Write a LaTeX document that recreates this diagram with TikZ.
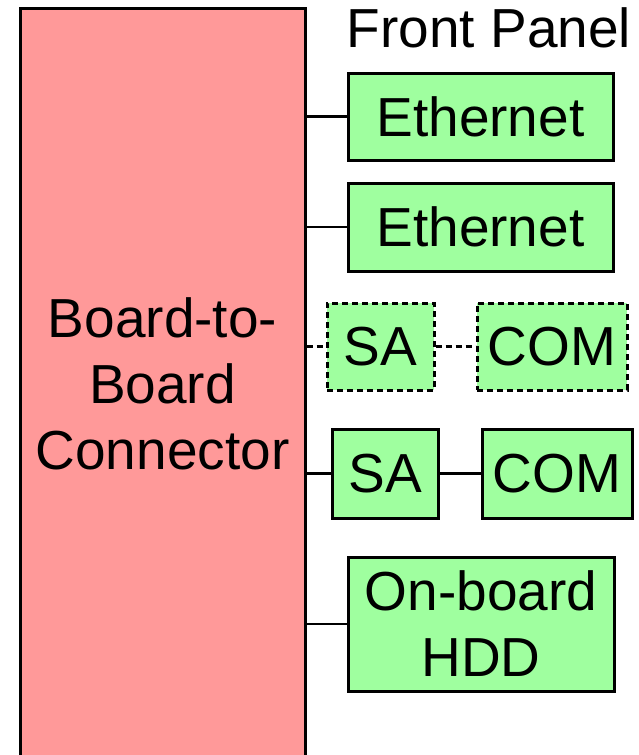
\documentclass[tikz,border=0pt]{standalone}
\usepackage{fontspec}
\setmainfont{Liberation Sans}
\usepackage{tikz}
\definecolor{connred}{HTML}{FF9999}
\definecolor{partgreen}{HTML}{9FFF9F}

\begin{document}
\begin{tikzpicture}[x=1pt,y=-1pt,
    node font=\fontsize{55}{66}\selectfont,
    part/.style={draw=black,line width=3pt,fill=partgreen,inner sep=0pt,align=center},
    optpart/.style={part,dash pattern=on 6pt off 4pt},
    wire/.style={line width=2.2pt},
    optwire/.style={line width=2.6pt,dash pattern=on 6pt off 4pt}]
		\useasboundingbox (0,0) rectangle (639,755);
		\node[draw=black,line width=3pt,fill=connred,minimum width=285pt,minimum height=752pt,inner sep=0pt,align=center] (conn) at (162.5,384) {Board-to-\\Board\\Connector};
		\node[anchor=base] (front) at (489,47) {Front Panel};
		\node[part,minimum width=265pt,minimum height=87pt] (eth1) at (480.5,116.5) {Ethernet};
		\node[part,minimum width=265pt,minimum height=88pt] (eth2) at (480.5,227) {Ethernet};
		\node[optpart,minimum width=107pt,minimum height=87pt] (sa1) at (380.5,346.5) {SA};
		\node[optpart,minimum width=150pt,minimum height=87pt] (com1) at (552,346.5) {COM};
		\node[part,minimum width=106pt,minimum height=89pt] (sa2) at (385,473.5) {SA};
		\node[part,minimum width=150pt,minimum height=89pt] (com2) at (557,473.5) {COM};
		\node[part,minimum width=266pt,minimum height=134pt] (hdd) at (481,624) {On-board\\HDD};
		\draw[wire] (eth1.west -| conn.east) -- (eth1.west);
		\draw[wire] (eth2.west -| conn.east) -- (eth2.west);
		\draw[optwire] (sa1.west -| conn.east) -- (sa1.west);
		\draw[optwire] (sa1.east) -- (com1.west);
		\draw[wire] (sa2.west -| conn.east) -- (sa2.west);
		\draw[wire] (sa2.east) -- (com2.west);
		\draw[wire] (hdd.west -| conn.east) -- (hdd.west);
\end{tikzpicture}
\end{document}
